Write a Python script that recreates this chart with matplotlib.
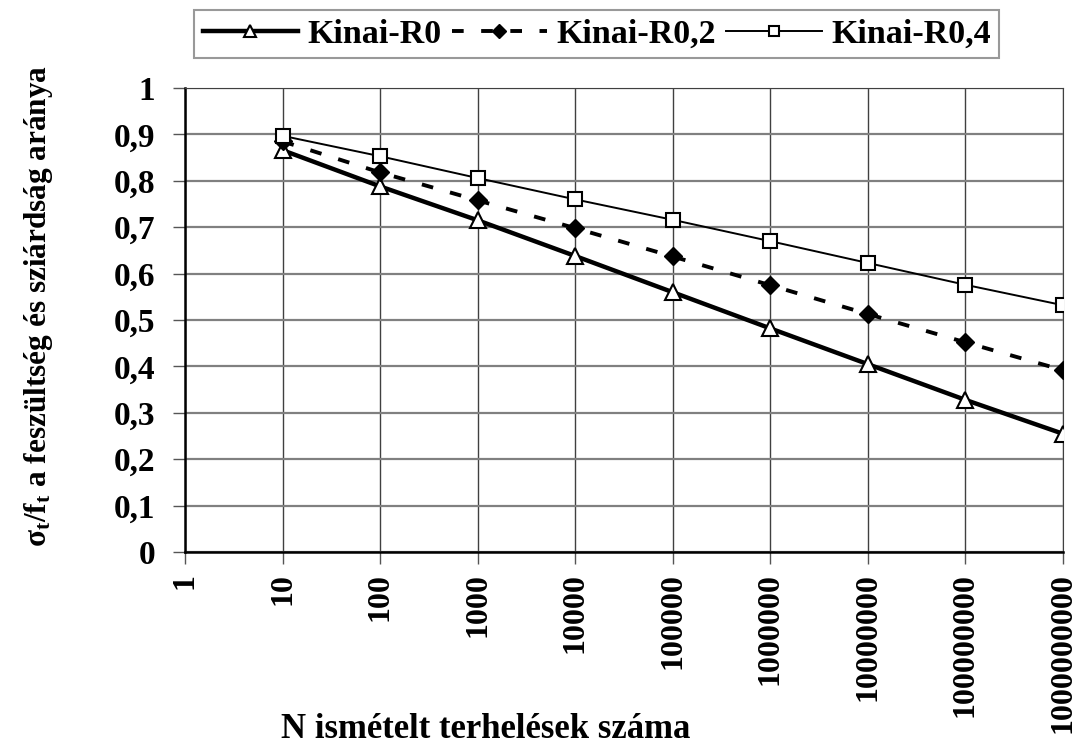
import matplotlib

matplotlib.use("Agg")
import matplotlib.pyplot as plt
from matplotlib.ticker import FixedLocator, NullLocator

plt.rcParams["font.family"] = ["Liberation Serif", "DejaVu Serif"]
plt.rcParams["font.weight"] = "bold"
plt.rcParams["mathtext.fontset"] = "custom"
plt.rcParams["mathtext.rm"] = "Liberation Serif:bold"
plt.rcParams["mathtext.it"] = "Liberation Serif:bold"
plt.rcParams["mathtext.bf"] = "Liberation Serif:bold"

# cycles N (log axis) and stress/strength ratio per curve
n_cycles = [1e1, 1e2, 1e3, 1e4, 1e5, 1e6, 1e7, 1e8, 1e9]
r0 = [0.866, 0.788, 0.715, 0.638, 0.560, 0.482, 0.405, 0.328, 0.255]
r02 = [0.885, 0.818, 0.758, 0.698, 0.637, 0.575, 0.513, 0.452, 0.392]
r04 = [0.897, 0.853, 0.806, 0.760, 0.716, 0.670, 0.623, 0.576, 0.532]
x_ticks = [1, 1e1, 1e2, 1e3, 1e4, 1e5, 1e6, 1e7, 1e8, 1e9]
x_labels = ["1", "10", "100", "1000", "10000", "100000", "1000000",
            "10000000", "100000000", "1000000000"]
y_ticks = [0, 0.1, 0.2, 0.3, 0.4, 0.5, 0.6, 0.7, 0.8, 0.9, 1.0]
y_labels = ["0", "0,1", "0,2", "0,3", "0,4", "0,5", "0,6", "0,7", "0,8", "0,9", "1"]

fig = plt.figure(figsize=(10.79, 7.46), dpi=100)
ax = fig.add_axes([0.1715, 0.26, 0.8135, 0.622])

ax.plot(n_cycles, r0, color="black", lw=3.2, marker="^", ms=11,
        mfc="white", mec="black", mew=1.5, label="Kinai-R0", zorder=3)
ax.plot(n_cycles, r02, color="black", lw=2.8, ls=(0, (3, 4.5)), marker="D", ms=9,
        mfc="black", mec="black", label="Kinai-R0,2", zorder=3)
ax.plot(n_cycles, r04, color="black", lw=1.4, marker="s", ms=10,
        mfc="white", mec="black", mew=1.5, label="Kinai-R0,4", zorder=3)

ax.set_xscale("log")
ax.set_xlim(1, 1e9)
ax.set_ylim(0, 1)
ax.xaxis.set_major_locator(FixedLocator(x_ticks))
ax.xaxis.set_minor_locator(NullLocator())
ax.set_xticklabels(x_labels, rotation=90, fontsize=23, fontweight="bold")
ax.set_yticks(y_ticks)
ax.set_yticklabels(y_labels, fontsize=24, fontweight="bold")
ax.tick_params(axis="both", direction="out", length=8.5, width=1, color="#555555")
ax.tick_params(axis="x", pad=7)
ax.tick_params(axis="y", pad=13)

ax.grid(True, axis="y", color="#808080", lw=1.6)
ax.grid(True, axis="x", color="#404040", lw=1.0)
ax.set_axisbelow(True)
for side in ("left", "bottom"):
    ax.spines[side].set_color("black")
    ax.spines[side].set_linewidth(1.8)
ax.spines["top"].set_color("#404040")
ax.spines["right"].set_color("#404040")

ax.set_ylabel(r"σ$_\mathrm{t}$/f$_\mathrm{t}$ a feszültség és sziárdság aránya",
              fontsize=22.5, fontweight="bold")
ax.yaxis.set_label_coords(-0.148, 0.53)
fig.text(486 / 1079, 1 - 738 / 746, "N ismételt terhelések száma", ha="center",
         va="baseline", fontsize=25, fontweight="bold")

leg = fig.legend(loc="upper left", bbox_to_anchor=(194 / 1079, 1 - 10 / 746), ncol=3,
                 fontsize=24.5, frameon=True, fancybox=False, handlelength=2.8,
                 columnspacing=0.3, handletextpad=0.28, borderpad=0.25,
                 borderaxespad=0, markerscale=0.75)
leg.get_frame().set_edgecolor("#808080")
leg.get_frame().set_linewidth(1.5)
for t in leg.get_texts():
    t.set_fontweight("bold")

fig.savefig("out.png", dpi=100)
